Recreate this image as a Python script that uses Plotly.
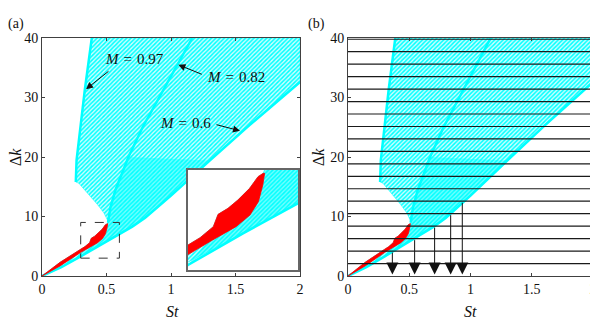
import plotly.graph_objects as go

# values (St on x, delta k on y)
# lower edge of the fan (M = 0.6 curve)
st_m060 = [0, 0.15, 0.30, 0.45, 0.60, 0.70, 0.80, 0.90, 1.00, 1.30, 1.60, 2.00]
dk_m060 = [0, 1.5, 3.3, 5.2, 7.0, 8.3, 9.8, 11.6, 13.5, 19.4, 25.2, 32.6]

# left edge of the fan (M = 0.97 curve)
st_m097 = [0.262, 0.268, 0.300, 0.332, 0.386]
dk_m097 = [15.8, 19.5, 25.4, 31.3, 40.0]

# middle highlighted curve (M = 0.82)
st_m082 = [0.512, 0.530, 0.570, 0.620, 0.670, 0.780, 0.910, 1.040, 1.165]
dk_m082 = [9.0, 11.5, 14.5, 17.3, 20.0, 25.0, 30.0, 35.0, 40.0]

# lower-left edge of the upper fan, from the waist out to the left
st_fan_low = [0.512, 0.480, 0.430, 0.380, 0.330, 0.285, 0.262]
dk_fan_low = [9.2, 10.6, 12.0, 13.3, 14.5, 15.6, 15.8]

# denser part of the fan, right of the waist
st_dense = [0.512, 0.530, 0.570, 0.620, 0.670, 1.30, 1.00, 0.80, 0.60, 0.45, 0.30]
dk_dense = [9.0, 11.5, 14.5, 17.3, 20.0, 19.4, 13.5, 9.8, 7.0, 5.2, 3.3]

# red band (unstable branch), upper edge then lower edge back to origin
st_red_up = [0, 0.14, 0.300, 0.333, 0.369, 0.377, 0.382, 0.409, 0.436, 0.468, 0.491, 0.505]
dk_red_up = [0, 2.3, 4.50, 4.94, 5.60, 6.10, 6.34, 6.70, 7.20, 7.90, 8.60, 8.80]
st_red_lo = [0.509, 0.504, 0.492, 0.469, 0.431, 0.367, 0.298, 0.14, 0]
dk_red_lo = [8.8, 8.1, 7.1, 6.3, 5.6, 4.8, 3.94, 1.7, 0]

# panel (b): horizontal delta k levels and the arrows dropped from them
dk_levels = [2.09, 4.19, 6.28, 8.38, 10.47, 12.57, 14.66, 16.76, 18.85, 20.94,
             23.04, 25.13, 27.23, 29.32, 31.42, 33.51, 35.60, 37.70, 39.79]
arrow_st = [0.362, 0.544, 0.707, 0.838, 0.933]
arrow_dk = [4.19, 6.28, 8.38, 10.47, 12.57]

x_ticks = [0, 0.5, 1, 1.5, 2]
x_ticktext = ["0", "0.5", "1", "1.5", "2"]
y_ticks = [0, 10, 20, 30, 40]

CYAN = "#00ffff"
RED = "#ff0000"
FONT = "Liberation Serif"
INK = "#111111"

# the page puts the figure 8px in from the corner; keep it inside the window
OFF = 8
W, H = 598 - OFF, 331 - 2 * OFF


def px(x):
    return (x - OFF) / W


def py(y):
    return (H - (y - OFF)) / H


# outline of the whole cyan region
fan_st = st_red_up + st_fan_low + st_m097 + [2.0] + st_m060[::-1]
fan_dk = dk_red_up + dk_fan_low + dk_m097 + [40.0] + dk_m060[::-1]
red_st = st_red_up + st_red_lo
red_dk = dk_red_up + dk_red_lo

fig = go.Figure()


def add_panel(xa, ya):
    fig.add_trace(go.Scatter(
        x=fan_st, y=fan_dk, xaxis=xa, yaxis=ya, mode="lines", fill="toself",
        line=dict(color=CYAN, width=0.5),
        fillpattern=dict(shape="/", fgcolor=CYAN, bgcolor="rgba(0,255,255,0.2)",
                         size=3, solidity=0.5),
        hoverinfo="skip", showlegend=False))
    fig.add_trace(go.Scatter(
        x=st_dense, y=dk_dense, xaxis=xa, yaxis=ya, mode="none", fill="toself",
        fillcolor="rgba(0,255,255,0.45)", hoverinfo="skip", showlegend=False))
    for s, d in [(st_m060, dk_m060), (st_m097, dk_m097), (st_m082, dk_m082)]:
        fig.add_trace(go.Scatter(x=s, y=d, xaxis=xa, yaxis=ya, mode="lines",
                                 line=dict(color=CYAN, width=2.5),
                                 hoverinfo="skip", showlegend=False))
    fig.add_trace(go.Scatter(
        x=red_st, y=red_dk, xaxis=xa, yaxis=ya, mode="lines", fill="toself",
        line=dict(color=RED, width=0.8), fillcolor=RED,
        hoverinfo="skip", showlegend=False))


add_panel("x", "y")
add_panel("x2", "y2")
add_panel("x3", "y3")

# horizontal levels in (b)
hx, hy = [], []
for d in dk_levels:
    hx += [0, 2, None]
    hy += [d, d, None]
fig.add_trace(go.Scatter(x=hx, y=hy, xaxis="x2", yaxis="y2", mode="lines",
                         line=dict(color="#1a1a1a", width=1.2),
                         hoverinfo="skip", showlegend=False))

ax_common = dict(showline=True, linecolor="#404040", linewidth=1, mirror="allticks",
                 ticks="inside", ticklen=3, tickcolor="#404040", showgrid=False,
                 zeroline=False, automargin=False, ticklabeloverflow="allow",
                 tickfont=dict(family=FONT, size=14, color=INK))
inset_ax = dict(showline=True, mirror=True, linecolor="#666", linewidth=1.5,
                showticklabels=False, ticks="", showgrid=False, zeroline=False,
                automargin=False)

fig.update_layout(
    template="none",
    width=W, height=H,
    margin=dict(l=0, r=0, t=0, b=0, pad=0, autoexpand=False),
    paper_bgcolor="white", plot_bgcolor="white",
    xaxis=dict(domain=[px(42), px(300)], range=[0, 2], tickvals=x_ticks,
               ticktext=x_ticktext, anchor="y", **ax_common),
    yaxis=dict(domain=[py(276), py(38)], range=[0, 40], tickvals=y_ticks,
               anchor="x", **ax_common),
    xaxis2=dict(domain=[px(348), px(593)], range=[0, 2], tickvals=x_ticks,
                ticktext=x_ticktext, anchor="y2", **ax_common),
    yaxis2=dict(domain=[py(276), py(38)], range=[0, 40], tickvals=y_ticks,
                anchor="x2", **ax_common),
    xaxis3=dict(domain=[px(188), px(298)], range=[0.3, 0.6], anchor="y3", **inset_ax),
    yaxis3=dict(domain=[py(270), py(170)], range=[3, 9], anchor="x3", **inset_ax),
)

# dashed zoom box in (a)
fig.add_shape(type="rect", xref="x", yref="y", x0=0.3, x1=0.6, y0=3, y1=9,
              line=dict(color="#333", width=1, dash="dash"))

tf = dict(family=FONT, size=15, color=INK)
ann = []
# axis titles and panel labels (pixel centres from the reference)
for xc in [172, 470]:
    ann.append(dict(text="<i>St</i>", x=px(xc), y=py(311), xref="paper",
                    yref="paper", xanchor="center", yanchor="middle", showarrow=False,
                    font=dict(family=FONT, size=16, color=INK)))
for xc in [15, 318]:
    ann.append(dict(text="Δ<i>k</i>", x=px(xc), y=py(157), xref="paper",
                    yref="paper", xanchor="center", yanchor="middle", showarrow=False,
                    textangle=-90, font=dict(family=FONT, size=16, color=INK)))
for t, xc in [("(a)", 16), ("(b)", 316)]:
    ann.append(dict(text=t, x=px(xc), y=py(24), xref="paper", yref="paper",
                    xanchor="center", yanchor="middle", showarrow=False,
                    font=dict(family=FONT, size=14, color=INK)))

# M labels with arrows in (a): text centre, arrow tail, arrow head
sp = "\u2004"
labels = [("<i>M</i>" + sp + "=" + sp + "0.97", 0.72, 36.5, 0.527, 34.6, 0.341, 31.4),
          ("<i>M</i>" + sp + "=" + sp + "0.82", 1.50, 33.4, 1.25, 33.8, 1.057, 35.5),
          ("<i>M</i>" + sp + "=" + sp + "0.6", 1.109, 25.7, 1.341, 25.5, 1.535, 24.4)]
for t, tx, ty, ax_, ay_, hx_, hy_ in labels:
    ann.append(dict(text=t, x=tx, y=ty, xref="x", yref="y", xanchor="center",
                    yanchor="middle", showarrow=False, font=tf))
    ann.append(dict(text="", x=hx_, y=hy_, ax=ax_, ay=ay_, xref="x", yref="y",
                    axref="x", ayref="y", showarrow=True, arrowhead=2, arrowsize=1.4,
                    arrowwidth=1, arrowcolor=INK))

# vertical arrows in (b)
for s, d in zip(arrow_st, arrow_dk):
    ann.append(dict(text="", x=s, y=0.25, ax=s, ay=d, xref="x2", yref="y2",
                    axref="x2", ayref="y2", showarrow=True, arrowhead=2, arrowsize=2.4,
                    arrowwidth=1, arrowcolor=INK))

fig.update_layout(annotations=ann)
fig.write_html("out.html")
